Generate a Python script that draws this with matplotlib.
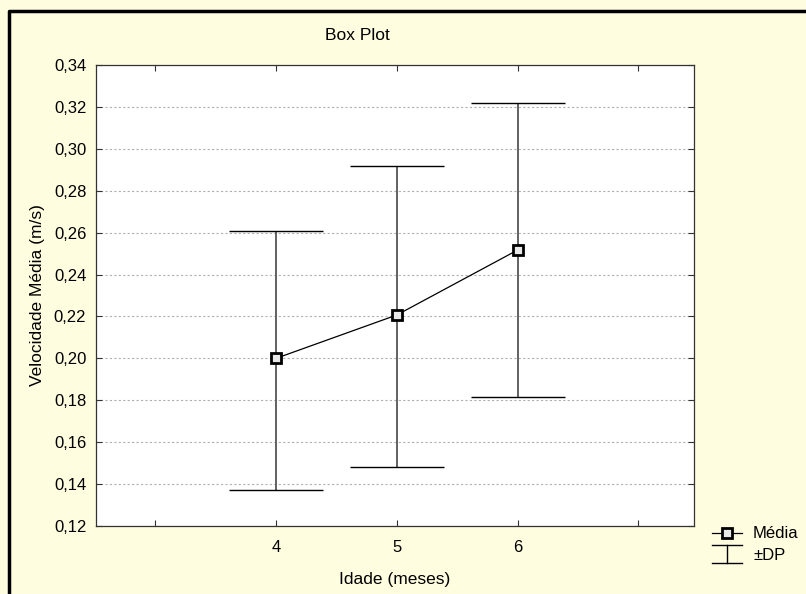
import matplotlib.pyplot as plt
from matplotlib.lines import Line2D

plt.rcParams['font.family'] = ['Liberation Sans', 'DejaVu Sans']

idade = [4, 5, 6]
media = [0.2000, 0.2207, 0.2517]
dp_sup = [0.2610, 0.2918, 0.3219]
dp_inf = [0.1372, 0.1482, 0.1815]
yticks = [0.12, 0.14, 0.16, 0.18, 0.20, 0.22, 0.24, 0.26, 0.28, 0.30, 0.32, 0.34]

bg = '#fffde0'
fig = plt.figure(figsize=(8.06, 5.94), dpi=100, facecolor=bg)
ax = fig.add_axes([96 / 806, 68 / 594, 598 / 806, 461 / 594])
ax.set_facecolor('white')

# barras do desvio padrao
ax.vlines(idade, dp_inf, dp_sup, color='#555555', lw=1.3, zorder=2)
ax.hlines(dp_sup, [x - 0.39 for x in idade], [x + 0.39 for x in idade], color='black', lw=1.0, zorder=2)
ax.hlines(dp_inf, [x - 0.39 for x in idade], [x + 0.39 for x in idade], color='black', lw=1.0, zorder=2)

# media
ax.plot(idade, media, color='black', lw=0.9, marker='s', ms=7, mfc='#e8e8e8', mec='black', mew=2, zorder=3)

ax.set_xlim(2.51, 7.46)
ax.set_ylim(0.12, 0.34)
ax.set_xticks([3, 4, 5, 6, 7])
ax.set_xticklabels(['', '4', '5', '6', ''])
ax.set_yticks(yticks)
ax.set_yticklabels([('%.2f' % v).replace('.', ',') for v in yticks])
ax.tick_params(direction='in', top=True, right=True, length=4, width=0.8, labelsize=12, color='#333333')
ax.tick_params(axis='x', pad=10)
ax.tick_params(axis='y', pad=7)
ax.grid(axis='y', color='#b0b0b0', ls=(0, (2, 2)), lw=0.8)
for s in ax.spines.values():
    s.set_color('#333333')
    s.set_linewidth(0.9)

ax.set_xlabel('Idade (meses)', fontsize=12.5, labelpad=12)
ax.set_ylabel('Velocidade Média (m/s)', fontsize=12.5, labelpad=6)
fig.text(357 / 806, 1 - 35 / 594, 'Box Plot', fontsize=12.5, ha='center', va='center')

# legenda
px = lambda x, y: (x / 806, 1 - y / 594)
x0, x1 = px(712, 0)[0], px(742, 0)[0]
fig.add_artist(Line2D([x0, x1], [px(0, 533)[1]] * 2, color='black', lw=0.9,
                      transform=fig.transFigure))
fig.add_artist(Line2D([(x0 + x1) / 2], [px(0, 533)[1]], marker='s', ms=7, mfc='#e8e8e8',
                      mec='black', mew=2, transform=fig.transFigure))
fig.add_artist(Line2D([x0, x1], [px(0, 545)[1]] * 2, color='black', lw=1.0, transform=fig.transFigure))
fig.add_artist(Line2D([x0, x1], [px(0, 563)[1]] * 2, color='black', lw=1.0, transform=fig.transFigure))
fig.add_artist(Line2D([(x0 + x1) / 2] * 2, [px(0, 545)[1], px(0, 563)[1]], color='black', lw=1.0,
                      transform=fig.transFigure))
fig.text(*px(753, 533), 'Média', fontsize=12, va='center')
fig.text(*px(753, 555), '±DP', fontsize=12, va='center')

# moldura
fig.add_artist(Line2D([px(8.5, 0)[0], px(8.5, 0)[0], 1], [0, px(0, 10.5)[1], px(0, 10.5)[1]],
                      color='black', lw=2.5, transform=fig.transFigure))

fig.savefig('out.png', dpi=100, facecolor=bg)
